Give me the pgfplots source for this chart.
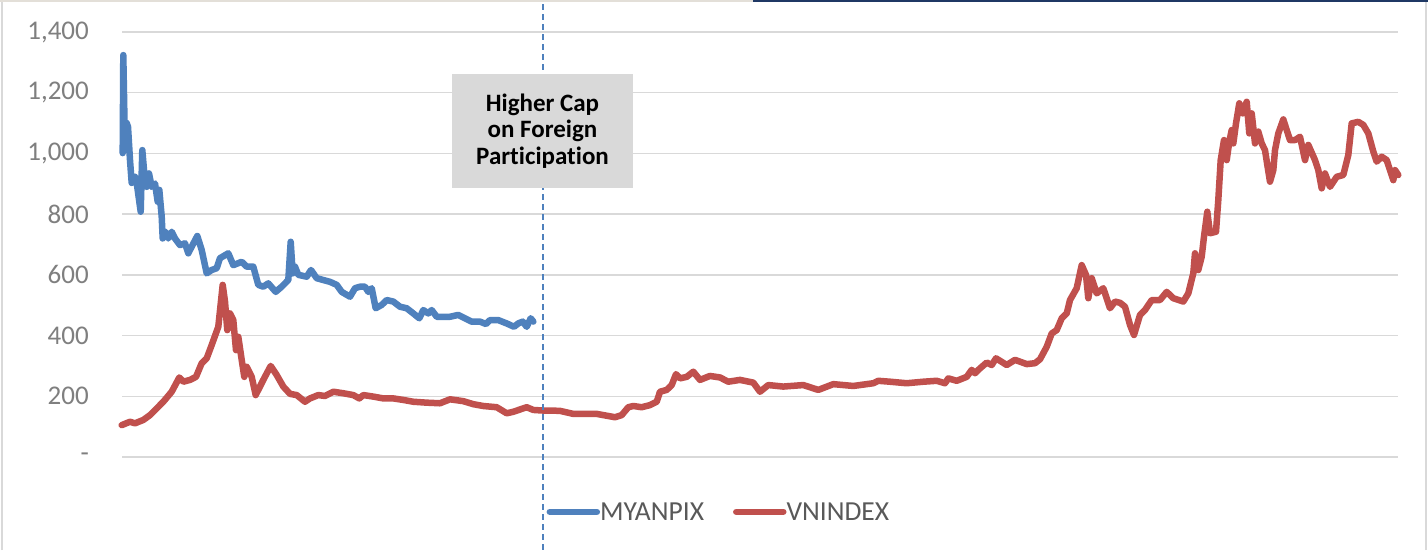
\documentclass[border=0pt]{standalone}
\usepackage{pgfplots}
\pgfplotsset{compat=1.18}
\usepackage{fontspec}
\setmainfont{Carlito}[Ligatures=NoCommon]
\definecolor{myblue}{HTML}{4F81BD}
\definecolor{myred}{HTML}{C0504D}
\definecolor{gridc}{HTML}{D9D9D9}
\definecolor{tickc}{HTML}{7F7F7F}
\definecolor{legc}{HTML}{595959}
\definecolor{navy}{HTML}{1F3864}
\definecolor{beige}{HTML}{E3DFD8}
\begin{document}
\begin{tikzpicture}[x=1pt,y=1pt]
\path[use as bounding box] (0,0) rectangle (1428,550);
\fill[white] (0,0) rectangle (1428,550);
\draw[gridc, line width=1.5pt] (2,0) -- (2,548);
\draw[gridc, line width=1.5pt] (1426,0) -- (1426,548);
\draw[beige, line width=2.5pt] (0,549) -- (753,549);
\draw[navy, line width=3pt] (753,549) -- (1428,549);
\begin{axis}[
  at={(122pt,93pt)}, anchor=south west,
  scale only axis, width=1276pt, height=425pt,
  xmin=122, xmax=1398, ymin=0, ymax=1400,
  clip=false,
  axis line style={draw=none},
  xtick=\empty,
  ytick={0,200,400,600,800,1000,1200,1400},
  yticklabels={-,200,400,600,800,{1,000},{1,200},{1,400}},
  major tick length=0pt,
  ymajorgrids,
  grid style={gridc, line width=1.5pt},
  yticklabel style={font=\fontsize{27}{30}\selectfont, text=tickc, anchor=east, inner sep=0pt, xshift=-33pt},
  legend columns=2,
  legend style={draw=none, fill=none, at={(0.467,-0.129)}, anchor=center,
    font=\fontsize{27.5}{30}\selectfont, text=legc,
    /tikz/every even column/.append style={column sep=29pt},
    nodes={inner sep=0pt, text depth=0pt}},
  legend image code/.code={\draw[#1] (3pt,0pt) -- (50pt,0pt);},
  legend cell align=left,
]
\addplot[myblue, line width=6.5pt, line join=round, line cap=round] coordinates {
(122.7,1001) (123.3,1324) (125,1011) (126.7,1100) (128,1088) (130,978) (131.7,903)
(135,923) (136.7,903) (140.7,808) (142.3,1011) (144.3,934) (146.7,890) (149,934)
(151.7,890) (155,901) (157.7,841) (159.3,880) (161.7,792) (162.7,720) (165,742)
(168.3,720) (171.7,742) (175,720) (180,698) (185,704) (188.3,671) (191.7,693)
(197.3,728) (201.7,682) (206.7,605) (211.7,616) (216.7,622) (220,655) (228.3,671)
(233.3,632) (241.7,643) (246.7,627) (253.3,627) (258.3,567) (263.3,561) (268.3,572)
(275.7,544) (281.7,561) (288.3,583) (290.7,709) (292.7,605) (295,627) (298.3,600)
(306.7,594) (311,616) (316.7,589) (323.3,583) (330,577) (336.7,567) (341.7,544)
(350,528) (355,556) (360,561) (365,561) (368.3,544) (371.7,556) (375.7,490)
(381.7,501) (386.7,517) (393.3,512) (400,495) (406.7,490) (413.3,473) (419.3,457)
(423.3,484) (428.3,473) (431.7,484) (436.7,462) (443.3,462) (450,462) (458.3,468)
(465,457) (471.7,446) (480,446) (486,438) (490,451) (498.3,451) (506.7,440)
(514,429) (518.3,440) (522.7,446) (526.7,429) (530.7,457) (533.3,446)
};
\addlegendentry{MYANPIX}
\addplot[myred, line width=6.5pt, line join=round, line cap=round] coordinates {
(121.7,105) (130,116) (135,111) (143.3,122) (150,138) (156.7,160) (163.3,182)
(171.7,215) (179.3,262) (183.3,248) (190,254) (196,264) (201.7,309) (206.7,325)
(211.7,369) (218.3,429) (222.7,567) (225,512) (227.3,418) (230,473) (233.3,451)
(236,352) (238.3,396) (241.7,320) (244.3,264) (246.7,297) (251.7,264) (255.7,204)
(263.3,254) (270.7,300) (276.7,270) (283.3,232) (290,208) (296.7,204) (305,182)
(310,193) (318.3,204) (325,201) (333.3,215) (343.3,210) (353.3,204) (359.3,193)
(363.3,204) (373.3,199) (383.3,193) (393.3,193) (403.3,188) (413.3,182) (426.7,179)
(440,177) (450,190) (463.3,184) (473.3,174) (483.3,168) (496.7,164) (506.7,144)
(513.3,149) (526.7,164) (533.3,155) (543.3,153) (550,153) (560,152) (573.3,142)
(596.7,142) (615,131) (621.7,138) (628.3,164) (633.3,168) (641.7,164) (650,171)
(656.7,182) (660,215) (666.7,221) (671.7,237) (676,273) (680,259) (686.7,264)
(693.3,281) (700,254) (710,267) (720,262) (728.3,248) (740,254) (753.3,245)
(760,215) (768.3,237) (783.3,232) (803.3,237) (818.3,221) (833.3,240) (853.3,234)
(873.3,243) (878.3,251) (890,248) (906.7,243) (923.3,248) (936.7,251) (945,243)
(948.3,259) (956.7,251) (966.7,264) (971.7,287) (975,276) (980,292) (986.7,311)
(991.7,303) (996,325) (1000,317) (1006.7,303) (1015,320) (1026.7,306) (1035,309)
(1040,322) (1046.7,363) (1051.7,407) (1056.7,418) (1061.7,457) (1066.7,473)
(1070,517) (1076.7,556) (1081.7,632) (1086,600) (1088.3,523) (1091.7,589)
(1096.7,539) (1103.3,556) (1110,490) (1115,512) (1120,508) (1125,495) (1130,435)
(1134,402) (1140,468) (1145,484) (1151.7,517) (1160,517) (1166.7,544) (1173.3,523)
(1183.3,512) (1188.3,539) (1193.3,605) (1195,671) (1198.3,616) (1201.7,660)
(1204,726) (1207.3,808) (1210,737) (1216,742) (1218.3,847) (1220.7,978) (1224,1044)
(1226.7,978) (1229.3,1039) (1231.7,1077) (1233.3,1033) (1236,1099) (1239.3,1165)
(1242.7,1132) (1246.7,1170) (1249.3,1066) (1251.7,1132) (1255,1033) (1258.3,1072)
(1261.7,1033) (1265,1011) (1267.3,962) (1270,907) (1273.3,945) (1275,1011)
(1278.3,1066) (1283.3,1112) (1286.7,1077) (1290,1044) (1295,1044) (1300,1055)
(1305,978) (1308.3,1028) (1315,978) (1318.3,945) (1321.7,885) (1325,934) (1330,890)
(1336.7,923) (1343.3,929) (1348.3,995) (1351.7,1099) (1358.3,1104) (1363.3,1094)
(1368.3,1066) (1373.3,1006) (1376.7,973) (1381.7,989) (1386.7,978) (1390,945)
(1393.3,912) (1395,945) (1398.3,929)
};
\addlegendentry{VNINDEX}
\draw[myblue, line width=1.5pt, dash pattern=on 6pt off 4pt] (axis cs:543,-306) -- (axis cs:543,1505);
\node[fill=gridc, minimum width=181pt, minimum height=114pt, inner sep=0pt, align=center,
  font=\fontsize{25}{26.7}\selectfont\bfseries, text=black]
  at (axis cs:542.5,1074) {Higher Cap\\on Foreign\\Participation};
\end{axis}
\end{tikzpicture}
\end{document}
